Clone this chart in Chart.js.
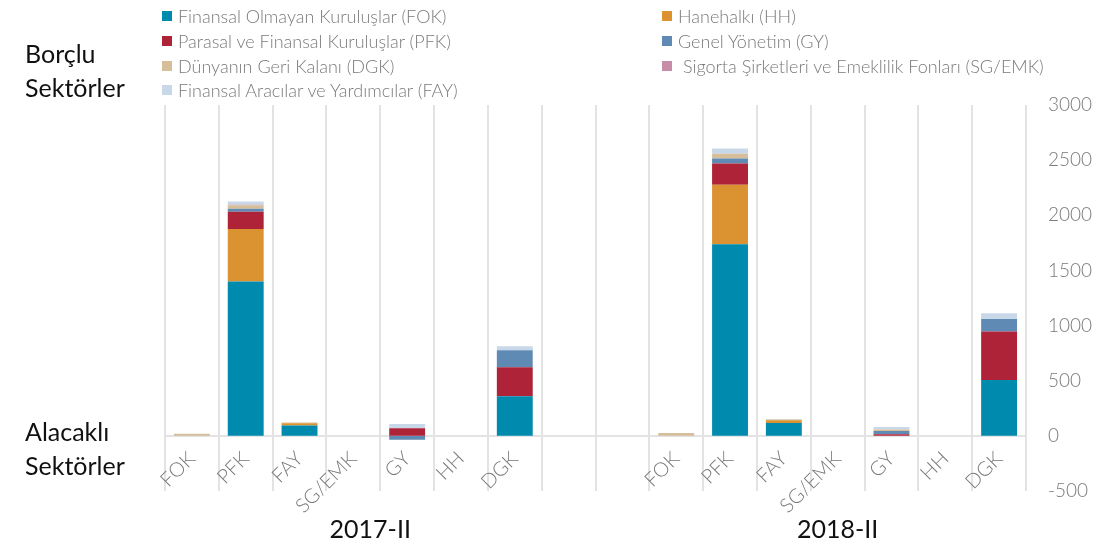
<!DOCTYPE html>
<html lang="tr">
<head>
    <meta charset="UTF-8">
    <title>Borçlu / Alacaklı Sektörler</title>
    <script src="https://cdn.jsdelivr.net/npm/chart.js"></script>
    <style>
        body { margin: 0; background: #fff; font-family: Lato, sans-serif; }
        #wrap { position: relative; width: 1109px; height: 549px; }
        #legend {
            position: absolute; left: 162px; top: 4px;
            display: grid; grid-template-columns: 500px 440px;
            grid-auto-rows: 24.7px; font-size: 18px; font-weight: 300; color: #7a7a7a;
        }
        #legend span.item { display: flex; align-items: center; white-space: pre; }
        #legend span.box { width: 10px; height: 10px; margin-right: 6px; display: inline-block; }
        .side { position: absolute; left: 25px; font-size: 25px; line-height: 34px; color: #111; }
    </style>
</head>
<body>
<div id="wrap">
    <canvas id="myChart"></canvas>
    <div id="legend"></div>
    <div class="side" style="top:36px;">Borçlu<br>Sektörler</div>
    <div class="side" style="top:414px;">Alacaklı<br>Sektörler</div>
</div>

<script>
    // categories (two blank slots between the periods)
    var categories = ['FOK', 'PFK', 'FAY', 'SG/EMK', 'GY', 'HH', 'DGK', '', '',
                      'FOK', 'PFK', 'FAY', 'SG/EMK', 'GY', 'HH', 'DGK'];
    var periods = ['2017-II', '2018-II'];

    // series values, 2017-II then 2018-II
    var fok  = [0, 1400, 95, 0, 0, 0, 360, null, null,   0, 1738, 117, 0, 0, 0, 506];
    var hh   = [0, 476, 20, 0, 0, 0, 0, null, null,      0, 539, 24, 0, 0, 0, 0];
    var pfk  = [0, 157, 0, 0, 68, 0, 262, null, null,    0, 193, 0, 0, 15, 0, 440];
    var gy   = [0, 27, 0, 0, -35, 0, 154, null, null,    0, 45, 0, 0, 30, 0, 114];
    var dgk  = [20, 30, 5, 0, 0, 0, 0, null, null,       27, 42, 8, 0, 12, 0, 0];
    var sg   = [0, 5, 0, 2, 0, 0, 0, null, null,         0, 0, 0, 2, 0, 0, 0];
    var fay  = [0, 30, 0, 0, 40, 0, 36, null, null,      0, 48, 4, 0, 24, 0, 51];

    var yTicks = [3000, 2500, 2000, 1500, 1000, 500, 0, -500];

    var series = [
        { label: 'Finansal Olmayan Kuruluşlar (FOK)', data: fok, color: '#008bae' },
        { label: 'Hanehalkı (HH)', data: hh, color: '#da9330' },
        { label: 'Parasal ve Finansal Kuruluşlar (PFK)', data: pfk, color: '#ae2338' },
        { label: 'Genel Yönetim (GY)', data: gy, color: '#5f8ab4' },
        { label: 'Dünyanın Geri Kalanı (DGK)', data: dgk, color: '#d6be9b' },
        { label: ' Sigorta Şirketleri ve Emeklilik Fonları (SG/EMK)', data: sg, color: '#c68ca8' },
        { label: 'Finansal Aracılar ve Yardımcılar (FAY)', data: fay, color: '#c8d8e8' }
    ];

    // period labels under the category labels
    var periodLabels = {
        id: 'periodLabels',
        afterDraw: function (chart) {
            var x = chart.scales.x, ctx = chart.ctx;
            var spans = [[0, 7], [9, 15]];
            ctx.save();
            ctx.font = '25px Lato';
            ctx.fillStyle = '#111';
            ctx.textAlign = 'center';
            ctx.textBaseline = 'middle';
            spans.forEach(function (s, i) {
                var cx = (x.getPixelForValue(s[0]) + x.getPixelForValue(s[1])) / 2;
                ctx.fillText(periods[i], cx - (i === 0 ? 10 : 0), 530);
            });
            ctx.restore();
        }
    };

    var ctx = document.getElementById('myChart').getContext('2d');
    var myChart = new Chart(ctx, {
        type: 'bar',
        data: {
            labels: categories,
            datasets: series.map(function (s) {
                return { label: s.label, data: s.data, backgroundColor: s.color,
                         barPercentage: 0.667, categoryPercentage: 1 };
            })
        },
        options: {
            responsive: true,
            maintainAspectRatio: false,
            animation: false,
            layout: { padding: { left: 165, top: 105, bottom: 58, right: 0 } },
            plugins: { legend: { display: false }, tooltip: { enabled: false } },
            scales: {
                x: {
                    stacked: true,
                    position: { y: 0 },
                    grid: { color: '#e3e3e3', lineWidth: 2, drawTicks: false, offset: true },
                    border: { color: '#e3e3e3', width: 2 },
                    ticks: {
                        autoSkip: false, minRotation: 45, maxRotation: 45, padding: 11,
                        color: '#7a7a7a', font: { family: 'Lato', size: 20, weight: 300 }
                    }
                },
                y: {
                    stacked: true,
                    position: 'right',
                    min: -500, max: 3000,
                    afterBuildTicks: function (s) { s.ticks = yTicks.map(function (v) { return { value: v }; }); },
                    afterFit: function (s) { s.width = 83; },
                    grid: { display: false, drawTicks: false },
                    border: { display: false },
                    ticks: {
                        padding: 22, color: '#7a7a7a', font: { family: 'Lato', size: 19, weight: 300 },
                        callback: function (v) { return String(v); }
                    }
                }
            }
        },
        plugins: [periodLabels]
    });

    // two-column legend built from the datasets
    var legend = document.getElementById('legend');
    myChart.data.datasets.forEach(function (d) {
        var item = document.createElement('span');
        item.className = 'item';
        var box = document.createElement('span');
        box.className = 'box';
        box.style.background = d.backgroundColor;
        item.appendChild(box);
        item.appendChild(document.createTextNode(d.label));
        legend.appendChild(item);
    });
</script>
</body>
</html>
